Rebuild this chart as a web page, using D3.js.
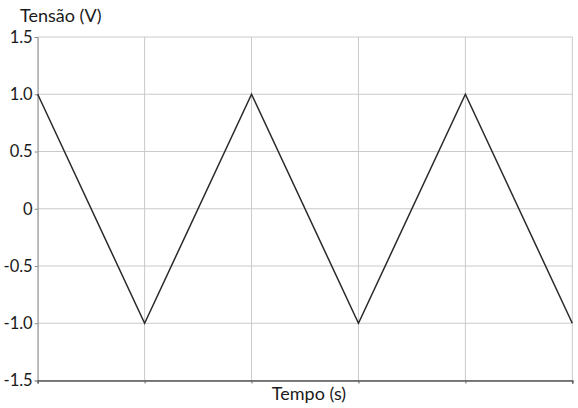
<!DOCTYPE html>
<html><head><meta charset="utf-8">
<script src="https://cdn.jsdelivr.net/npm/d3@7"></script>
<style>body{margin:0;background:#fff}</style>
</head><body>
<svg id="c" width="578" height="408"></svg>
<script>
const timeValues = [0, 1, 2, 3, 4, 5];
const voltageValues = [1, -1, 1, -1, 1, -1];
const yTicks = [1.5, 1.0, 0.5, 0, -0.5, -1.0, -1.5];
const yTickLabels = ["1.5", "1.0", "0.5", "0", "-0.5", "-1.0", "-1.5"];
const xGrid = [0, 1, 2, 3, 4, 5];

const svg = d3.select("#c");
const font = "Lato, 'Open Sans', sans-serif";
const x = d3.scaleLinear().domain([0, 5]).range([37.7, 572.3]);
const y = d3.scaleLinear().domain([-1.5, 1.5]).range([380.5, 37]);

// grid
svg.append("g").selectAll("line").data(yTicks).join("line")
  .attr("x1", x(0)).attr("x2", x(5))
  .attr("y1", d => y(d)).attr("y2", d => y(d))
  .attr("stroke", "#cacaca").attr("stroke-width", 1);
svg.append("g").selectAll("line").data(xGrid).join("line")
  .attr("x1", d => x(d)).attr("x2", d => x(d))
  .attr("y1", y(1.5)).attr("y2", y(-1.5))
  .attr("stroke", "#cacaca").attr("stroke-width", 1);

// y axis
const ya = d3.axisLeft(y).tickValues(yTicks).tickSize(3).tickPadding(2)
  .tickFormat((d, i) => yTickLabels[i]);
const gy = svg.append("g").attr("transform", `translate(${x(0)},0)`).call(ya);
gy.select(".domain").attr("stroke", "#999");
gy.selectAll(".tick line").attr("stroke", "#888");
gy.selectAll("text").attr("font-family", font).attr("font-size", 16.5).attr("fill", "#1a1a1a");

// x axis
const xa = d3.axisBottom(x).tickValues(xGrid).tickSize(3).tickFormat("");
const gx = svg.append("g").attr("transform", `translate(0,${y(-1.5)})`).call(xa);
gx.select(".domain").attr("stroke", "#555").attr("stroke-width", 1.5);
gx.selectAll(".tick line").attr("stroke", "#666");

// line
const line = d3.line().x((d, i) => x(timeValues[i])).y(d => y(d));
svg.append("path").datum(voltageValues)
  .attr("d", line).attr("fill", "none")
  .attr("stroke", "#2a2a2a").attr("stroke-width", 1.5);

// titles
svg.append("text").attr("x", 20).attr("y", 22).text("Tensão (V)")
  .attr("font-family", font).attr("font-size", 18).attr("fill", "#1a1a1a");
svg.append("text").attr("x", 309).attr("y", 400).attr("text-anchor", "middle").text("Tempo (s)")
  .attr("font-family", font).attr("font-size", 18).attr("fill", "#1a1a1a");
</script>
</body></html>
